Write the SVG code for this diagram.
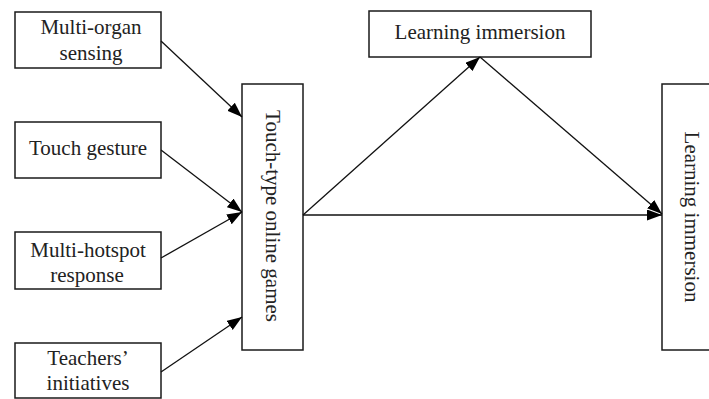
<svg xmlns="http://www.w3.org/2000/svg" width="709" height="399" viewBox="0 0 709 399">
<style>
.box{fill:#fff;stroke:#1a1a1a;stroke-width:1.5}
.t{font-family:"Liberation Serif","Times New Roman",serif;font-size:21px;fill:#222;text-anchor:middle}
.c{stroke:#111;stroke-width:1.3;fill:none;marker-end:url(#ah)}
</style>
<defs>
<marker id="ah" markerUnits="userSpaceOnUse" markerWidth="16" markerHeight="12" refX="15" refY="5.5" orient="auto">
<path d="M0,0 L15,5.5 L0,11 z" fill="#000"/>
</marker>
</defs>
<rect width="709" height="399" fill="#fff"/>
<g id="n1"><rect class="box" x="15" y="12" width="146" height="56"/><text class="t" x="91" y="34">Multi-organ</text><text class="t" x="91" y="60">sensing</text></g>
<g id="n2"><rect class="box" x="15" y="122" width="146" height="56"/><text class="t" x="88" y="155">Touch gesture</text></g>
<g id="n3"><rect class="box" x="15" y="232" width="146" height="57"/><text class="t" x="88" y="257">Multi-hotspot</text><text class="t" x="87" y="282">response</text></g>
<g id="n4"><rect class="box" x="15" y="343" width="146" height="55"/><text class="t" x="88" y="365">Teachers’</text><text class="t" x="88" y="390">initiatives</text></g>
<g id="n5"><rect class="box" x="242" y="84" width="61" height="266"/><text class="t" x="266" y="216" transform="rotate(90 266 216)">Touch-type online games</text></g>
<g id="n6"><rect class="box" x="369" y="11" width="222" height="46"/><text class="t" x="480" y="39">Learning immersion</text></g>
<g id="n7"><rect class="box" x="662" y="84" width="60" height="266"/><text class="t" x="685" y="217" transform="rotate(90 685 217)">Learning immersion</text></g>
<g id="connectors">
<line class="c" x1="161" y1="41" x2="242" y2="117"/>
<line class="c" x1="161" y1="150" x2="242" y2="212"/>
<line class="c" x1="161" y1="258" x2="242" y2="212"/>
<line class="c" x1="161" y1="372" x2="242" y2="317"/>
<line class="c" x1="303" y1="215" x2="480" y2="57"/>
<line class="c" x1="480" y1="57" x2="662" y2="214"/>
<line class="c" x1="303" y1="215" x2="662" y2="215"/>
</g>
</svg>
